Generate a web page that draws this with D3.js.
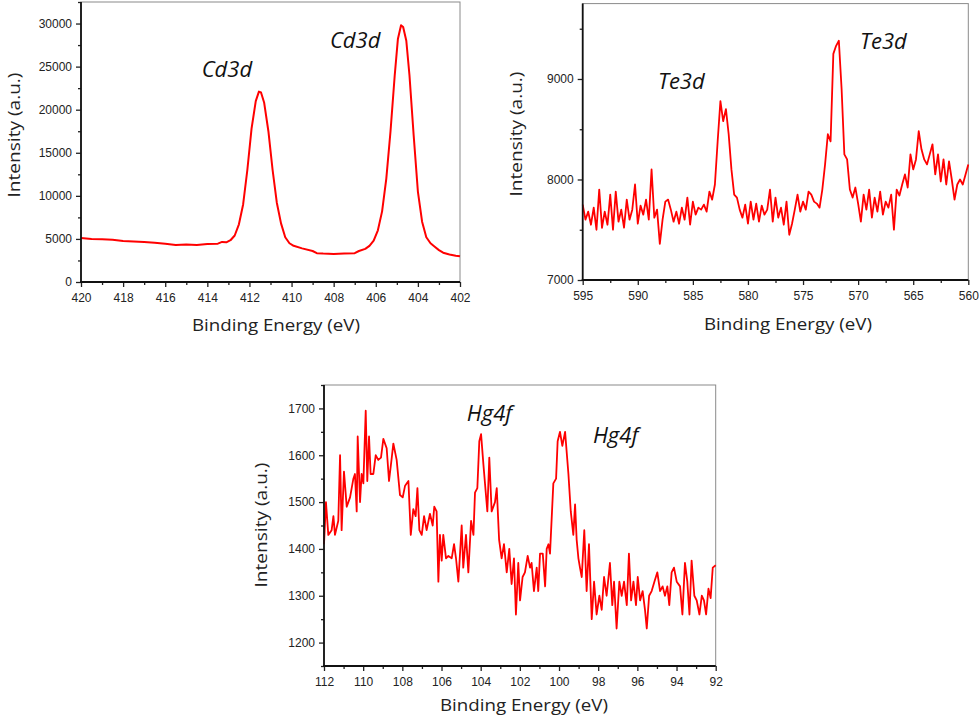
<!DOCTYPE html>
<html>
<head>
<meta charset="utf-8">
<script src="https://cdn.jsdelivr.net/npm/d3@7/dist/d3.min.js"></script>
<style>
  html, body { margin: 0; padding: 0; background: #fff; }
  svg { display: block; }
</style>
</head>
<body>
<svg id="chart" width="979" height="721"></svg>
<script>
// ---------------- DATA ----------------
// Cd3d spectrum: [binding energy (eV), intensity (a.u.)]
const cdSpectrum = [
  [420,5100],[419.5,5000],[419,4950],[418.5,4900],[418,4750],[417.5,4700],[417,4650],[416.5,4550],
  [416,4450],[415.5,4300],[415,4350],[414.5,4300],[414,4400],[413.5,4450],[413.3,4650],[413.1,4600],
  [412.9,4850],[412.7,5400],[412.5,6700],[412.3,9000],[412.1,13000],[411.9,17800],[411.7,21000],
  [411.55,22100],[411.45,22000],[411.3,20800],[411.1,17500],[410.9,13000],[410.7,9200],[410.5,6800],
  [410.3,5200],[410.1,4500],[409.9,4200],[409.5,3900],[409,3600],[408.8,3350],[408.5,3300],[408,3250],
  [407.5,3300],[407,3350],[406.8,3600],[406.5,3850],[406.3,4200],[406.1,4800],[405.9,6000],[405.7,8200],
  [405.5,12000],[405.3,17500],[405.1,24000],[404.95,28200],[404.8,29800],[404.7,29600],[404.55,28000],
  [404.4,24000],[404.2,17000],[404.0,10500],[403.8,7000],[403.6,5200],[403.4,4500],[403.2,4100],
  [403.0,3700],[402.8,3400],[402.5,3200],[402.2,3050],[402,3000]
];
// Te3d spectrum
const teSpectrum = [
  [595,7750],[594.75,7600],[594.5,7680],[594.25,7550],[594,7720],[593.75,7500],[593.5,7900],[593.25,7520],
  [593,7680],[592.75,7550],[592.5,7850],[592.25,7500],[592,7880],[591.75,7580],[591.5,7700],[591.25,7520],
  [591,7800],[590.75,7600],[590.5,7700],[590.25,7950],[590,7560],[589.75,7740],[589.5,7650],[589.25,7800],
  [589,7600],[588.75,8100],[588.5,7620],[588.25,7700],[588,7360],[587.75,7600],[587.5,7780],[587.25,7800],
  [587,7700],[586.75,7580],[586.5,7680],[586.25,7560],[586,7720],[585.75,7600],[585.5,7820],[585.25,7550],
  [585,7780],[584.75,7650],[584.5,7720],[584.25,7700],[584,7750],[583.75,7680],[583.5,7880],[583.25,7800],
  [583,7950],[582.75,8380],[582.5,8780],[582.25,8580],[582,8700],[581.75,8450],[581.5,8100],[581.25,7850],
  [581,7820],[580.75,7700],[580.5,7620],[580.25,7750],[580,7560],[579.75,7780],[579.5,7600],[579.25,7760],
  [579,7580],[578.75,7740],[578.5,7650],[578.25,7700],[578,7900],[577.75,7580],[577.5,7820],[577.25,7620],
  [577,7720],[576.75,7550],[576.5,7780],[576.25,7450],[576,7560],[575.75,7700],[575.5,7850],[575.25,7680],
  [575,7780],[574.75,7700],[574.5,7880],[574.25,7850],[574,7780],[573.75,7760],[573.5,7720],[573.25,7900],
  [573,8150],[572.75,8450],[572.5,8380],[572.25,9250],[572,9330],[571.75,9380],[571.5,8900],[571.25,8250],
  [571,8200],[570.75,7900],[570.5,7820],[570.25,7920],[570,7760],[569.75,7580],[569.5,7850],[569.25,7700],
  [569,7900],[568.75,7620],[568.5,7820],[568.25,7680],[568,7880],[567.75,7650],[567.5,7780],[567.25,7720],
  [567,7850],[566.75,7500],[566.5,7900],[566.25,7840],[566,7950],[565.75,8050],[565.5,7920],[565.25,8250],
  [565,8100],[564.75,8200],[564.5,8480],[564.25,8300],[564,8200],[563.75,8150],[563.5,8250],[563.25,8350],
  [563,8050],[562.75,8250],[562.5,7980],[562.25,8200],[562,7950],[561.75,8180],[561.5,8000],[561.25,7800],
  [561,7950],[560.75,8000],[560.5,7950],[560.25,8050],[560,8150]
];
// Hg4f spectrum
const hgSpectrum = [
  [112.00,1410],[111.90,1500],[111.78,1430],[111.61,1440],[111.52,1470],[111.44,1430],[111.27,1460],
  [111.18,1600],[111.10,1440],[110.98,1565],[110.84,1490],[110.67,1510],[110.50,1550],[110.42,1560],
  [110.33,1480],[110.28,1640],[110.16,1500],[110.08,1560],[109.99,1540],[109.87,1695],[109.79,1545],
  [109.70,1640],[109.62,1560],[109.48,1560],[109.36,1600],[109.23,1590],[109.09,1595],[108.97,1635],
  [108.80,1615],[108.68,1545],[108.54,1595],[108.46,1625],[108.29,1590],[108.12,1515],[107.98,1510],
  [107.86,1535],[107.69,1545],[107.57,1430],[107.44,1485],[107.32,1470],[107.23,1530],[107.13,1440],
  [107.01,1430],[106.89,1470],[106.76,1440],[106.59,1475],[106.45,1450],[106.37,1490],[106.25,1480],
  [106.16,1330],[106.08,1430],[105.99,1375],[105.91,1430],[105.77,1380],[105.65,1385],[105.48,1380],
  [105.36,1410],[105.26,1380],[105.14,1330],[104.97,1450],[104.89,1360],[104.75,1430],[104.63,1350],
  [104.49,1460],[104.37,1430],[104.29,1520],[104.17,1530],[104.07,1630],[103.98,1645],[103.86,1580],
  [103.74,1520],[103.66,1480],[103.56,1595],[103.44,1480],[103.27,1500],[103.18,1530],[103.06,1420],
  [102.93,1380],[102.81,1410],[102.67,1350],[102.54,1400],[102.42,1325],[102.30,1380],[102.20,1260],
  [102.08,1370],[101.99,1290],[101.86,1340],[101.74,1350],[101.60,1385],[101.48,1360],[101.40,1370],
  [101.28,1310],[101.14,1360],[101.06,1310],[100.97,1390],[100.83,1390],[100.71,1320],[100.63,1400],
  [100.54,1410],[100.46,1390],[100.29,1540],[100.15,1550],[100.07,1630],[99.95,1650],[99.83,1620],
  [99.69,1650],[99.52,1560],[99.40,1480],[99.27,1430],[99.18,1495],[99.10,1420],[99.01,1380],
  [98.93,1360],[98.84,1340],[98.71,1440],[98.59,1310],[98.47,1410],[98.33,1250],[98.21,1330],
  [98.08,1260],[97.94,1300],[97.82,1270],[97.70,1340],[97.57,1300],[97.40,1370],[97.28,1280],
  [97.19,1330],[97.06,1230],[96.92,1330],[96.80,1300],[96.68,1330],[96.54,1280],[96.43,1390],
  [96.32,1290],[96.20,1330],[96.07,1280],[95.98,1340],[95.86,1290],[95.73,1310],[95.61,1270],
  [95.52,1230],[95.40,1300],[95.27,1310],[95.13,1330],[94.98,1350],[94.84,1310],[94.71,1320],
  [94.59,1300],[94.47,1320],[94.37,1280],[94.25,1350],[94.13,1360],[93.99,1330],[93.82,1320],
  [93.70,1260],[93.57,1370],[93.45,1330],[93.34,1260],[93.23,1375],[93.09,1300],[92.97,1290],
  [92.83,1260],[92.71,1300],[92.60,1290],[92.49,1260],[92.37,1315],[92.26,1295],[92.15,1360],[92.00,1365]
];

// Tick values
const cdXTicks = [420,418,416,414,412,410,408,406,404,402];
const cdXMinor = [419,417,415,413,411,409,407,405,403];
const cdYTicks = [0,5000,10000,15000,20000,25000,30000];
const cdYMinor = [2500,7500,12500,17500,22500,27500,32500];

const teXTicks = [595,590,585,580,575,570,565,560];
const teXMinor = [592.5,587.5,582.5,577.5,572.5,567.5,562.5];
const teYTicks = [7000,8000,9000];
const teYMinor = [7500,8500,9500];

const hgXTicks = [112,110,108,106,104,102,100,98,96,94,92];
const hgXMinor = [111,109,107,105,103,101,99,97,95,93];
const hgYTicks = [1200,1300,1400,1500,1600,1700];
const hgYMinor = [1150,1250,1350,1450,1550,1650,1750];

// Peak labels: [text, energy at left of text, intensity at baseline]
const cdLabels = [["Cd3d", 414.27, 23800], ["Cd3d", 408.18, 27130]];
const teLabels = [["Te3d", 588.17, 8896], ["Te3d", 569.83, 9298]];
const hgLabels = [["Hg4f", 104.71, 1674], ["Hg4f", 98.27, 1627]];

const xTitle = "Binding Energy (eV)";
const yTitle = "Intensity (a.u.)";

// ---------------- DRAWING ----------------
const svg = d3.select("#chart");
const tickFont = "'Liberation Sans', Arial, sans-serif";
const titleFont = "'Open Sans', 'Noto Sans', sans-serif";

function drawPanel(cfg) {
  const x = d3.scaleLinear().domain(cfg.xDomain).range([cfg.left, cfg.right]);
  const y = d3.scaleLinear().domain(cfg.yDomain).range([cfg.bottom, cfg.top]);
  const g = svg.append("g");

  // frame (thin top/right)
  g.append("rect")
    .attr("x", cfg.left).attr("y", cfg.top)
    .attr("width", cfg.right - cfg.left).attr("height", cfg.bottom - cfg.top)
    .attr("fill", "none").attr("stroke", "#8a8a8a").attr("stroke-width", 1);

  // spectrum line
  const line = d3.line().x(d => x(d[0])).y(d => y(d[1]));
  g.append("path").datum(cfg.data)
    .attr("d", line).attr("fill", "none")
    .attr("stroke", "#ff0000").attr("stroke-width", cfg.lw)
    .attr("stroke-linejoin", "round");

  // axes
  const fmt = d3.format("d");
  const styleAxis = sel => {
    sel.select(".domain").remove();
    sel.selectAll(".tick line").attr("stroke", "#222").attr("stroke-width", 1.3);
    sel.selectAll(".tick text").attr("fill", "#222")
      .style("font-family", tickFont).style("font-size", "12px");
  };
  g.append("g").attr("transform", `translate(0,${cfg.bottom})`)
    .call(d3.axisBottom(x).tickValues(cfg.xTicks).tickFormat(fmt).tickSize(5).tickPadding(6.5))
    .call(styleAxis);
  g.append("g").attr("transform", `translate(0,${cfg.bottom})`)
    .call(d3.axisBottom(x).tickValues(cfg.xMinor).tickFormat("").tickSize(3))
    .call(styleAxis);
  g.append("g").attr("transform", `translate(${cfg.left},0)`)
    .call(d3.axisLeft(y).tickValues(cfg.yTicks).tickFormat(fmt).tickSize(5).tickPadding(4))
    .call(styleAxis);
  g.append("g").attr("transform", `translate(${cfg.left},0)`)
    .call(d3.axisLeft(y).tickValues(cfg.yMinor).tickFormat("").tickSize(3))
    .call(styleAxis);

  // heavy left and bottom axis lines
  g.append("line").attr("x1", cfg.left).attr("x2", cfg.left)
    .attr("y1", cfg.top).attr("y2", cfg.bottom + 1)
    .attr("stroke", "#111").attr("stroke-width", 1.8);
  g.append("line").attr("x1", cfg.left - 1).attr("x2", cfg.right)
    .attr("y1", cfg.bottom).attr("y2", cfg.bottom)
    .attr("stroke", "#111").attr("stroke-width", 1.8);

  // axis titles
  g.append("text")
    .attr("x", cfg.xTitleX).attr("y", cfg.xTitleY)
    .attr("text-anchor", "middle")
    .attr("textLength", 168).attr("lengthAdjust", "spacingAndGlyphs")
    .style("font-family", titleFont).style("font-size", "17px").attr("fill", "#222")
    .text(xTitle);
  g.append("text")
    .attr("transform", `translate(${cfg.yTitleX},${cfg.yTitleY}) rotate(-90)`)
    .attr("text-anchor", "middle")
    .attr("textLength", 125).attr("lengthAdjust", "spacingAndGlyphs")
    .style("font-family", titleFont).style("font-size", "17px").attr("fill", "#222")
    .text(yTitle);

  // peak labels
  g.selectAll("text.peak").data(cfg.labels).enter().append("text")
    .attr("class", "peak")
    .attr("x", d => x(d[1])).attr("y", d => y(d[2]))
    .style("font-family", titleFont).style("font-style", "italic")
    .style("font-size", "22px").attr("fill", "#111")
    .text(d => d[0]);
}

drawPanel({
  data: cdSpectrum, xDomain: [420, 402], yDomain: [0, 32500],
  left: 81, right: 460, top: 2, bottom: 282, lw: 2,
  xTicks: cdXTicks, xMinor: cdXMinor, yTicks: cdYTicks, yMinor: cdYMinor,
  xTitleX: 276, xTitleY: 331, yTitleX: 19.5, yTitleY: 135, labels: cdLabels
});
drawPanel({
  data: teSpectrum, xDomain: [595, 560], yDomain: [7000, 9750],
  left: 582.7, right: 968.3, top: 3.6, bottom: 280, lw: 1.8,
  xTicks: teXTicks, xMinor: teXMinor, yTicks: teYTicks, yMinor: teYMinor,
  xTitleX: 788, xTitleY: 330, yTitleX: 521.5, yTitleY: 134, labels: teLabels
});
drawPanel({
  data: hgSpectrum, xDomain: [112, 92], yDomain: [1150, 1750],
  left: 324, right: 715.7, top: 385, bottom: 666, lw: 1.8,
  xTicks: hgXTicks, xMinor: hgXMinor, yTicks: hgYTicks, yMinor: hgYMinor,
  xTitleX: 524, xTitleY: 711, yTitleX: 267, yTitleY: 525, labels: hgLabels
});
</script>
</body>
</html>
